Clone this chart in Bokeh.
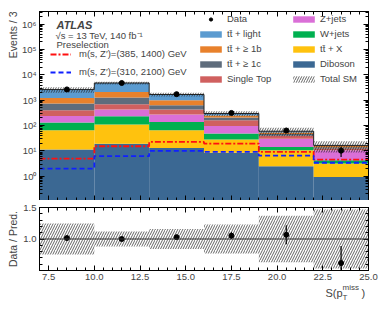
import numpy as np
from bokeh.plotting import figure
from bokeh.models import (FixedTicker, LinearAxis, LogAxis, Range1d, Label, Legend, Title,
                          LegendItem, CustomJSTickFormatter, PrintfTickFormatter, Span)
from bokeh.layouts import column
from bokeh.embed import file_html
from bokeh.resources import INLINE

# ---------------- data ----------------
bin_edges = [7, 10, 13, 16, 19, 22, 25]
bin_centers = [8.5, 11.5, 14.5, 17.5, 20.5, 23.5]

diboson      = [11.3, 19.0, 13.0, 8.5, 2.5, 0.94]
ttbar_x      = [54.7, 91.0, 53.0, 19.5, 8.1, 2.26]
w_jets       = [66.0, 124.0, 73.0, 21.0, 3.8, 1.1]
z_jets       = [108.0, 196.0, 136.0, 48.0, 15.6, 6.3]
single_top   = [160.0, 270.0, 155.0, 65.0, 10.0, 1.9]
ttbar_1c     = [340.0, 590.0, 200.0, 45.0, 6.0, 1.5]
ttbar_1b     = [490.0, 850.0, 370.0, 43.0, 7.0, 1.5]
ttbar_light  = [1410.0, 2660.0, 690.0, 50.0, 7.0, 1.0]

data_obs     = [2680, 4800, 1740, 316, 64, 10.2]
ratio_err    = [0.02, 0.015, 0.025, 0.055, 0.15, 0.27]
syst_rel     = [0.245, 0.12, 0.16, 0.23, 0.37, 0.47]

signal_385_1400 = [5.0, 15.3, 22.6, 19.5, 9.1, 4.5]
signal_310_2100 = [2.0, 6.2, 10.0, 9.1, 6.5, 3.4]

x_ticks = [7.5, 10.0, 12.5, 15.0, 17.5, 20.0, 22.5, 25.0]
y_ticks_main = [1, 10, 100, 1000, 10000, 100000, 1000000]
y_ticks_ratio = [1.0, 1.5]

FONT = "Liberation Sans"
C_LIGHT, C_1B, C_1C, C_ST = "#5B9BD0", "#E8812C", "#5E6C7C", "#D0605F"
C_Z, C_W, C_X, C_DIB = "#DA6FD7", "#00B050", "#FFC20E", "#3B6893"

processes = [  # bottom -> top
    ("Diboson", diboson, C_DIB),
    ("tt̄ + X", ttbar_x, C_X),
    ("W+jets", w_jets, C_W),
    ("Z+jets", z_jets, C_Z),
    ("Single Top", single_top, C_ST),
    ("tt̄ + ≥ 1c", ttbar_1c, C_1C),
    ("tt̄ + ≥ 1b", ttbar_1b, C_1B),
    ("tt̄ + light", ttbar_light, C_LIGHT),
]

left = np.array(bin_edges[:-1], float)
right = np.array(bin_edges[1:], float)


def step_xy(vals):
    xs, ys = [], []
    for i, v in enumerate(vals):
        xs += [bin_edges[i], bin_edges[i + 1]]
        ys += [v, v]
    return xs, ys


def blank_axis(ax):
    ax.formatter = CustomJSTickFormatter(code="return ''")
    ax.major_label_text_font_size = "0px"
    ax.major_label_standoff = 0


def style_ticks(ax):
    ax.major_tick_in = 5
    ax.major_tick_out = 0
    ax.minor_tick_in = 3
    ax.minor_tick_out = 0
    ax.axis_line_color = "black"
    ax.major_tick_line_color = "black"
    ax.minor_tick_line_color = "black"


x_minor = list(np.arange(7.0, 25.01, 0.5))
y_minor_main = [m * 10.0 ** d for d in range(-1, 7) for m in range(2, 10)]
xtick = FixedTicker(ticks=x_ticks, minor_ticks=x_minor)
ytick = FixedTicker(ticks=y_ticks_main, minor_ticks=y_minor_main)

sup_fmt = CustomJSTickFormatter(code="""
const s = {"0":"⁰","1":"¹","2":"²","3":"³","4":"⁴","5":"⁵","6":"⁶","7":"⁷","8":"⁸","9":"⁹","-":"⁻"};
const e = Math.round(Math.log10(tick));
return "10" + String(e).split("").map(c => s[c]).join("");
""")

# ---------------- main panel ----------------
p = figure(frame_width=329, frame_height=189, x_range=Range1d(7, 25),
           y_range=Range1d(0.11, 3.2e6), y_axis_type="log",
           output_backend="svg", toolbar_location=None,
           min_border_left=39, min_border_right=21, min_border_top=11, min_border_bottom=0)
p.grid.visible = False
p.outline_line_color = "black"
p.background_fill_color = "white"

p.xaxis.ticker = xtick
blank_axis(p.xaxis[0])
style_ticks(p.xaxis[0])
p.yaxis.ticker = ytick
p.yaxis.formatter = sup_fmt
p.yaxis.major_label_text_font = FONT
p.yaxis.major_label_text_font_size = "9.5px"
p.yaxis.major_label_standoff = 3
style_ticks(p.yaxis[0])

top_ax = LinearAxis(ticker=xtick)
blank_axis(top_ax); style_ticks(top_ax)
p.add_layout(top_ax, "above")
right_ax = LogAxis(ticker=ytick)
blank_axis(right_ax); style_ticks(right_ax)
p.add_layout(right_ax, "right")
p.add_layout(Title(text="Events / 3", align="right", text_font=FONT, text_font_size="10.5px",
                   text_font_style="normal", standoff=0), "left")

renderers = {}
bottom = np.full(6, 1e-3)
for name, vals, col in processes:
    top = bottom + np.array(vals, float)
    b = np.where(bottom < 1e-2, 1e-3, bottom)
    renderers[name] = p.quad(left=left, right=right, bottom=b, top=top,
                             fill_color=col, line_color=None)
    bottom = top
total = bottom

unc = p.quad(left=left, right=right, bottom=total * (1 - np.array(syst_rel)),
             top=total * (1 + np.array(syst_rel)), fill_alpha=0, line_color=None,
             hatch_pattern="/", hatch_color="#222222", hatch_scale=5, hatch_weight=0.7)
tx, ty = step_xy(total)
p.line(tx, ty, line_color="#222222", line_width=1.0)

sx, sy = step_xy(signal_385_1400)
sig1 = p.line(sx, sy, line_color="#FF1010", line_width=1.8, line_dash="6 2 2 2")
sx, sy = step_xy(signal_310_2100)
sig2 = p.line(sx, sy, line_color="#1020FF", line_width=1.8, line_dash="5 3")

d = np.array(data_obs, float)
derr = d * np.array(ratio_err) / (d / total)
p.segment(x0=bin_centers, x1=bin_centers, y0=d - derr, y1=d + derr, line_color="black", line_width=1.2)
dots = p.scatter(bin_centers, d, size=5, color="black")
dash = p.scatter([-50], [1.0], marker="dash", angle=np.pi / 2, size=9, color="black", line_width=1.5)


def mk_legend(items, loc, gw, gh, lh, sp, st):
    lg = Legend(items=items, location=loc, glyph_width=gw, glyph_height=gh,
                label_height=lh, spacing=sp, label_standoff=st, padding=0, margin=0,
                border_line_color=None, background_fill_alpha=0,
                label_text_font=FONT, label_text_font_size="9.5px")
    p.add_layout(lg)


col1 = [LegendItem(label="Data", renderers=[dots, dash])] + \
       [LegendItem(label=n, renderers=[renderers[n]]) for n in
        ["tt̄ + light", "tt̄ + ≥ 1b", "tt̄ + ≥ 1c", "Single Top"]]
col2 = [LegendItem(label=n, renderers=[renderers[n]]) for n in
        ["Z+jets", "W+jets", "tt̄ + X", "Diboson"]] + \
       [LegendItem(label="Total SM", renderers=[unc])]
mk_legend(col1, (158, 116), 27, 8, 10, 4, 3)
mk_legend(col2, (251, 116), 27, 8, 10, 4, 3)
mk_legend([LegendItem(label="m(s, Z′)=(385, 1400) GeV", renderers=[sig1]),
           LegendItem(label="m(s, Z′)=(310, 2100) GeV", renderers=[sig2])],
          (11, 123), 21, 8, 10, 7, 8)

p.add_layout(Label(x=17, y=176, x_units="screen", y_units="screen", text="ATLAS",
                   text_font=FONT, text_font_style="bold italic", text_font_size="11px",
                   text_baseline="middle"))
p.add_layout(Label(x=16, y=165, x_units="screen", y_units="screen",
                   text="√s =  13 TeV, 140 fb⁻¹", text_font=FONT, text_font_size="9.5px",
                   text_baseline="middle"))
p.add_layout(Label(x=17, y=156, x_units="screen", y_units="screen",
                   text="Preselection", text_font=FONT, text_font_size="9.5px",
                   text_baseline="middle"))

# ---------------- ratio panel ----------------
r = figure(frame_width=329, frame_height=63, x_range=p.x_range, y_range=Range1d(0.5, 1.5),
           output_backend="svg", toolbar_location=None,
           min_border_left=39, min_border_right=21, min_border_top=7, min_border_bottom=14)
r.grid.visible = False
r.outline_line_color = "black"
r.xaxis.ticker = xtick
r.xaxis.formatter = PrintfTickFormatter(format="%.1f")
r.xaxis.major_label_text_font = FONT
r.xaxis.major_label_text_font_size = "9.5px"
r.xaxis.major_label_standoff = 3
style_ticks(r.xaxis[0])
rytick = FixedTicker(ticks=y_ticks_ratio, minor_ticks=list(np.arange(0.5, 1.51, 0.1)))
r.yaxis.ticker = rytick
r.yaxis.formatter = PrintfTickFormatter(format="%.1f")
r.yaxis.major_label_text_font = FONT
r.yaxis.major_label_text_font_size = "9.5px"
r.yaxis.major_label_standoff = 3
style_ticks(r.yaxis[0])
rt = LinearAxis(ticker=xtick); blank_axis(rt); style_ticks(rt); r.add_layout(rt, "above")
rr = LinearAxis(ticker=rytick); blank_axis(rr); style_ticks(rr); r.add_layout(rr, "right")
r.add_layout(Title(text="Data / Pred.", align="center", text_font=FONT, text_font_size="10.5px",
                   text_font_style="normal", standoff=3), "left")

sr = np.array(syst_rel)
r.quad(left=left, right=right, bottom=1 - sr, top=1 + sr, fill_alpha=0, line_color=None,
       hatch_pattern="/", hatch_color="#222222", hatch_scale=5, hatch_weight=0.7)
r.add_layout(Span(location=1.0, dimension="width", line_color="#333333", line_width=1))
ratio = d / total
re_ = np.array(ratio_err)
r.segment(x0=bin_centers, x1=bin_centers, y0=ratio - re_, y1=ratio + re_, line_color="black", line_width=1.2)
r.scatter(bin_centers, ratio, size=5, color="black")

# ---------------- x-axis title strip ----------------
t = figure(frame_width=329, frame_height=18, x_range=Range1d(0, 1), y_range=Range1d(0, 1),
           output_backend="svg", toolbar_location=None, x_axis_location=None, y_axis_location=None,
           min_border_left=39, min_border_right=21, min_border_top=0, min_border_bottom=0)
t.grid.visible = False
t.outline_line_color = None
t.add_layout(Label(x=286, y=10, x_units="screen", y_units="screen", text="S(p",
                   text_font=FONT, text_font_size="11px", text_baseline="middle"))
t.add_layout(Label(x=303, y=15, x_units="screen", y_units="screen", text="miss",
                   text_font=FONT, text_font_size="8px", text_baseline="middle"))
t.add_layout(Label(x=303, y=5, x_units="screen", y_units="screen", text="T",
                   text_font=FONT, text_font_size="8px", text_baseline="middle"))
t.add_layout(Label(x=322, y=10, x_units="screen", y_units="screen", text=")",
                   text_font=FONT, text_font_size="11px", text_baseline="middle"))

layout = column(p, r, t, spacing=0)
open("out.html", "w").write(file_html(layout, INLINE))
